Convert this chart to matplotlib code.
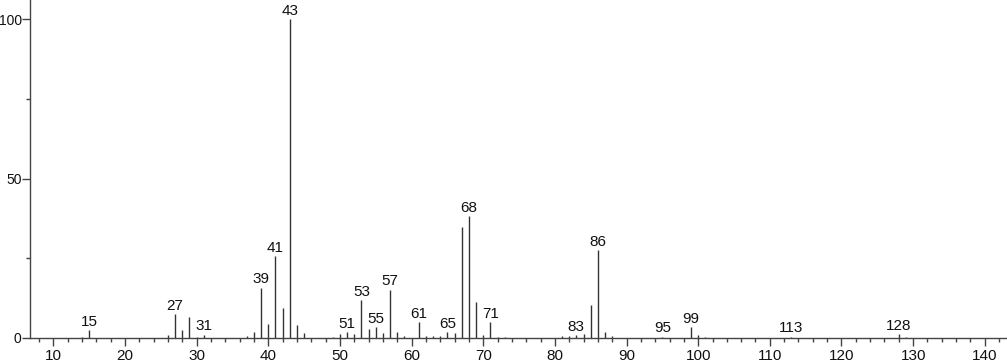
import matplotlib.pyplot as plt
from matplotlib.ticker import MultipleLocator

plt.rcParams['font.family'] = ['Liberation Sans', 'DejaVu Sans']

# m/z values and relative intensities
mz = [14, 15, 26, 27, 28, 29, 30, 31, 37, 38, 39, 40, 41, 42, 43, 44, 45,
      49, 50, 51, 52, 53, 54, 55, 56, 57, 58, 59, 61, 62, 63, 64, 65, 66,
      67, 68, 69, 70, 71, 72, 73, 81, 82, 83, 84, 85, 86, 87, 88,
      95, 99, 100, 101, 113, 128, 129]
intensity = [0.4, 2.4, 1.0, 7.5, 2.5, 6.5, 0.3, 1.0, 0.6, 1.9, 15.8, 4.5, 25.7, 9.5, 100, 4.1, 1.6,
             0.4, 1.4, 1.9, 1.4, 11.9, 2.7, 3.3, 1.5, 15.2, 1.8, 0.6, 5.0, 0.6, 0.5, 0.7, 1.8, 1.5,
             34.9, 38.2, 11.3, 0.9, 5.0, 0.4, 0.3, 0.6, 0.5, 0.8, 1.2, 10.2, 27.6, 1.8, 0.5,
             0.4, 3.4, 1.0, 0.3, 0.4, 1.1, 0.3]

labelled = [15, 27, 31, 39, 41, 43, 51, 53, 55, 57, 61, 65, 68, 71, 83, 86, 95, 99, 113, 128]

fig = plt.figure(figsize=(10.07, 3.62), dpi=100)
ax = fig.add_axes([0.0298, 0.0663, 0.9702, 0.9337])

ax.vlines(mz, 0, intensity, color='#333333', linewidth=1.0)

for m, h in zip(mz, intensity):
    if m in labelled:
        ax.annotate(str(m), (m, h), xytext=(0, 1), textcoords='offset points',
                    ha='center', va='bottom', fontsize=11, color='#111111')

ax.set_xlim(6.75, 143.1)
ax.set_ylim(0, 106)

ax.xaxis.set_major_locator(MultipleLocator(10))
ax.xaxis.set_minor_locator(MultipleLocator(2))
ax.yaxis.set_major_locator(MultipleLocator(50))
ax.yaxis.set_minor_locator(MultipleLocator(25))

ax.spines['top'].set_visible(False)
ax.spines['right'].set_visible(False)
for s in ['left', 'bottom']:
    ax.spines[s].set_color('#444444')
    ax.spines[s].set_linewidth(1.0)

ax.tick_params(which='both', direction='out', width=1, color='#444444')
ax.tick_params(axis='x', which='major', length=6, labelsize=11, labelcolor='#111111', pad=2)
ax.tick_params(axis='y', which='major', length=5.5, labelsize=10, labelcolor='#111111', pad=0.5)
ax.tick_params(which='minor', length=3)

fig.savefig('out.png', dpi=100)
